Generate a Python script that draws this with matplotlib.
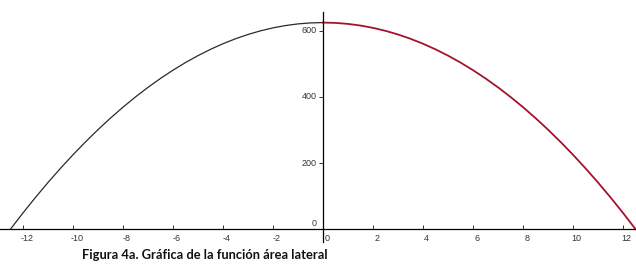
"""Lateral area function plot (Figura 4a)."""

import matplotlib

matplotlib.use("Agg")
import matplotlib.pyplot as plt

# values
x_left = [-12.5, -12, -11.5, -11, -10.5, -10, -9.5, -9, -8.5, -8, -7.5, -7, -6.5,
          -6, -5.5, -5, -4.5, -4, -3.5, -3, -2.5, -2, -1.5, -1, -0.5, 0]
y_left = [0, 49, 96, 141, 184, 225, 264, 301, 336, 369, 400, 429, 456,
          481, 504, 525, 544, 561, 576, 589, 600, 609, 616, 621, 624, 625]
x_right = [0, 0.5, 1, 1.5, 2, 2.5, 3, 3.5, 4, 4.5, 5, 5.5, 6, 6.5,
           7, 7.5, 8, 8.5, 9, 9.5, 10, 10.5, 11, 11.5, 12, 12.5]
y_right = [625, 624, 621, 616, 609, 600, 589, 576, 561, 544, 525, 504, 481, 456,
           429, 400, 369, 336, 301, 264, 225, 184, 141, 96, 49, 0]

x_ticks = [-12, -10, -8, -6, -4, -2, 0, 2, 4, 6, 8, 10, 12]
y_ticks = [0, 200, 400, 600]
caption = "Figura 4a. Gráfica de la función área lateral"

fig = plt.figure(figsize=(6.36, 2.66), dpi=100)
ax = fig.add_axes([0.0, 1 - 242 / 266, 1.0, 230 / 266])
ax.set_xlim(-12.92, 12.52)
ax.set_ylim(-39, 657)

ax.plot(x_left, y_left, color="#2a2a2a", linewidth=0.9)
ax.plot(x_right, y_right, color="#a3132e", linewidth=1.3)

for side in ("top", "right"):
    ax.spines[side].set_visible(False)
ax.spines["left"].set_position(("data", 0))
ax.spines["bottom"].set_position(("data", 0))
ax.spines["left"].set_linewidth(0.9)
ax.spines["bottom"].set_linewidth(0.9)

tick_font = {"family": "Liberation Sans", "size": 6.5, "color": "#333333"}

ax.set_xticks(x_ticks)
ax.set_xticklabels([])
ax.tick_params(axis="x", direction="in", length=3, width=0.7, colors="#333333")
for xv in x_ticks:
    ax.text(xv + 0.15, -14, str(xv), ha="center", va="top", **tick_font)

ax.set_yticks([v for v in y_ticks if v != 0])
ax.set_yticklabels([])
ax.tick_params(axis="y", direction="out", length=3, width=0.7, colors="#333333")
for yv in y_ticks:
    offset = 16 if yv == 0 else 0
    ax.text(-0.25, yv + offset, str(yv), ha="right", va="center", **tick_font)

fig.text(82 / 636, 1 - 255 / 266, caption, ha="left", va="center",
         fontsize=9.3, fontweight="bold", family="Lato", color="#111111")

fig.savefig("out.png", dpi=100, facecolor="white")
